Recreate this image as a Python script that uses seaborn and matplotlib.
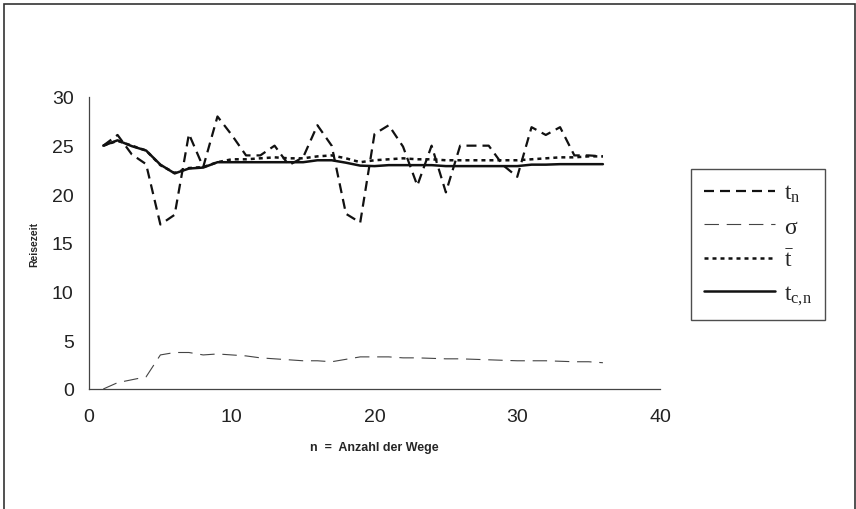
import matplotlib
matplotlib.use('Agg')
import matplotlib.pyplot as plt
import matplotlib.patches as patches
import numpy as np
import pandas as pd
import seaborn as sns

# n = Anzahl der Wege
n = list(range(1, 37))

# Reisezeit je Weg
t_n = [25.0, 26.1, 24.1, 23.1, 16.9, 17.9, 26.2, 22.8, 28.0, 26.1,
       24.0, 24.0, 25.0, 23.0, 23.8, 27.1, 25.0, 18.0, 17.1, 26.2,
       27.1, 24.9, 20.9, 25.0, 20.2, 25.0, 25.0, 25.0, 23.0, 21.8,
       26.9, 26.1, 26.9, 24.0, 24.0, 23.9]

# Standardabweichung
sigma = [0.0, 0.65, 0.95, 1.25, 3.5, 3.75, 3.75, 3.5, 3.6, 3.5,
         3.4, 3.2, 3.1, 3.0, 2.9, 2.9, 2.8, 3.05, 3.3, 3.3,
         3.3, 3.2, 3.2, 3.15, 3.1, 3.1, 3.05, 3.0, 2.95, 2.9,
         2.9, 2.9, 2.85, 2.8, 2.8, 2.7]

# Mittelwert
t_mean = [25.0, 25.5, 25.0, 24.5, 23.0, 22.2, 22.7, 22.8, 23.3, 23.6,
          23.6, 23.7, 23.8, 23.7, 23.7, 23.9, 24.0, 23.7, 23.3, 23.5,
          23.6, 23.7, 23.6, 23.6, 23.5, 23.5, 23.5, 23.5, 23.5, 23.5,
          23.6, 23.7, 23.8, 23.8, 23.9, 23.9]

# t_c,n
t_cn = [25.0, 25.55, 24.95, 24.5, 23.05, 22.15, 22.65, 22.75, 23.3, 23.3,
        23.3, 23.3, 23.3, 23.3, 23.3, 23.5, 23.5, 23.25, 22.95, 22.9,
        23.0, 23.0, 23.0, 23.0, 22.9, 22.9, 22.9, 22.9, 22.9, 22.9,
        23.05, 23.05, 23.1, 23.1, 23.1, 23.1]

labels = [r'$t_n$', r'$\sigma$', r'$\bar{t}$', r'$t_{c,\!n}$']
reihen = [t_n, sigma, t_mean, t_cn]

sns.set_style('white')
plt.rcParams['font.family'] = ['Liberation Sans', 'DejaVu Sans']
# Legende aufrecht in Serifenschrift
plt.rcParams['mathtext.fontset'] = 'custom'
plt.rcParams['mathtext.rm'] = 'Liberation Serif'
plt.rcParams['mathtext.it'] = 'Liberation Serif'
plt.rcParams['mathtext.bf'] = 'Liberation Serif:bold'

fig = plt.figure(figsize=(8.56, 5.10), dpi=100)
ax = fig.add_axes([89 / 856, 120 / 510, 571 / 856, 292 / 510])

stile = [
    dict(color='#111111', lw=1.6, linestyle=(0, (4.5, 2.7))),
    dict(color='#444444', lw=0.8, linestyle=(0, (13, 7))),
    dict(color='#111111', lw=1.8, linestyle=(0, (1.6, 1.6))),
    dict(color='#111111', lw=1.8, linestyle='-'),
]

for werte, lab, st in zip(reihen, labels, stile):
    df = pd.DataFrame({'n': n, 'wert': werte})
    sns.lineplot(data=df, x='n', y='wert', ax=ax, label=lab, clip_on=False, **st)

ax.set_xlim(0, 40)
ax.set_ylim(0, 30)
ax.set_xticks([0, 10, 20, 30, 40])
ax.set_yticks([0, 5, 10, 15, 20, 25, 30])
ax.tick_params(axis='x', direction='inout', length=8, width=0.8, labelsize=14, pad=10, colors='#222222')
ax.tick_params(axis='y', direction='out', length=5, width=0.8, labelsize=14, pad=6, colors='#222222')
for s in ['top', 'right']:
    ax.spines[s].set_visible(False)
for s in ['left', 'bottom']:
    ax.spines[s].set_color('#444444')
    ax.spines[s].set_linewidth(0.9)

ax.set_xlabel('n  =  Anzahl der Wege', fontsize=9, fontweight='bold', labelpad=11)
ax.set_ylabel('Reisezeit', fontsize=7.5, fontweight='bold', labelpad=9)

leg = ax.legend(loc='center left', bbox_to_anchor=(1.054, 0.495), frameon=True,
                fancybox=False, fontsize=17, handlelength=3.0, labelspacing=0.48,
                borderpad=0.55, handletextpad=0.4, borderaxespad=0)
leg.get_frame().set_edgecolor('#222222')
leg.get_frame().set_linewidth(1.0)

# Rahmen um die ganze Grafik
rahmen = patches.Rectangle((4 / 856, -0.01), 851 / 856, 1 - 5 / 510 + 0.01,
                           transform=fig.transFigure, fill=False,
                           edgecolor='#333333', lw=1.2)
fig.patches.append(rahmen)

fig.savefig('out.png', dpi=100)
